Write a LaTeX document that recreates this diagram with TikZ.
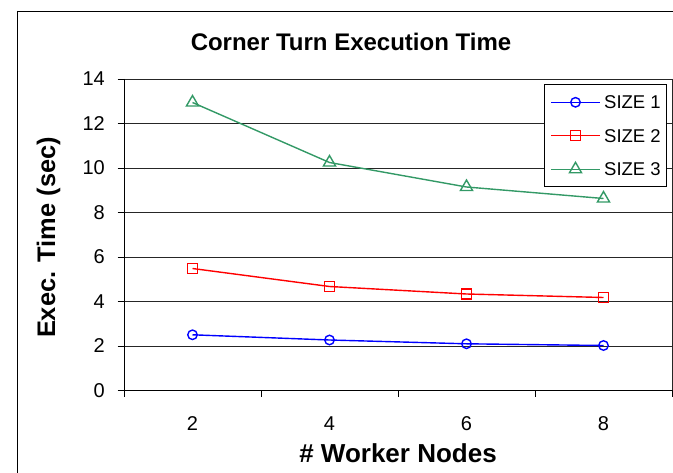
\documentclass[tikz,border=0pt]{standalone}
\usepackage{fontspec}
\setmainfont{Liberation Sans}
\usetikzlibrary{shapes.geometric}
\definecolor{sgreen}{RGB}{51,153,102}
\tikzset{
  frameline/.style={draw=black, line width=0.9pt},
  gridl/.style={draw=black!85, line width=0.9pt},
  axisl/.style={draw=black, line width=0.9pt},
  ticklab/.style={font=\fontsize{20}{20}\selectfont, inner sep=0pt},
  leglab/.style={font=\fontsize{18.5}{18.5}\selectfont, inner sep=0pt, anchor=west},
  bigbold/.style={font=\bfseries, inner sep=0pt, anchor=base},
  serA/.style={draw=blue, line width=1.4pt},
  serB/.style={draw=red, line width=1.4pt},
  serC/.style={draw=sgreen, line width=1.4pt},
  mkA/.style={circle, draw=blue, line width=1.4pt, minimum size=9.5pt, inner sep=0pt},
  mkB/.style={rectangle, draw=red, line width=1.4pt, minimum size=10pt, inner sep=0pt},
  mkC/.style={regular polygon, regular polygon sides=3, draw=sgreen, line width=1.4pt, minimum size=14pt, inner sep=0pt},
}
\begin{document}
\begin{tikzpicture}[x=1pt,y=-1pt]
\useasboundingbox (0,0) rectangle (673,473);
% outer chart frame
\draw[frameline] (17,11) -- (690,11);
\draw[frameline] (17,11) -- (17,490);
% title
\node[bigbold, font=\fontsize{24}{24}\selectfont\bfseries] (title) at (351,51) {Corner Turn Execution Time};
% grid lines (values 2..14), y = 390.5 - 22.25*v
\foreach \v in {2,4,...,14}{
  \draw[gridl] (124,{390.5-22.25*\v}) -- (672,{390.5-22.25*\v});
}
\draw[gridl] (672,79) -- (672,390.5);
% y axis with ticks and labels
\draw[axisl] (124,79) -- (124,390.5);
\foreach \v in {0,2,...,14}{
  \draw[axisl] (117.5,{390.5-22.25*\v}) -- (124,{390.5-22.25*\v});
  \node[ticklab, anchor=east] (yl\v) at (105,{390.5-22.25*\v}) {\v};
}
% x axis with ticks and labels
\draw[axisl] (124,390.5) -- (672,390.5);
\foreach \i in {0,...,4}{
  \draw[axisl] ({124+137*\i},390.5) -- ({124+137*\i},397.5);
}
\foreach \lab [count=\i from 0] in {2,4,6,8}{
  \node[ticklab, anchor=base] (xl\lab) at ({192.5+137*\i},430.5) {\lab};
}
% axis titles
\node[bigbold, font=\fontsize{26}{26}\selectfont\bfseries] (xtitle) at (398,462.5) {\# Worker Nodes};
\node[bigbold, font=\fontsize{25.4}{25.4}\selectfont\bfseries, rotate=90] (ytitle) at (55,237.5) {Exec. Time (sec)};
% data
\path (192.5,334.8) coordinate (a1) (329.5,340) coordinate (a2) (466.5,343.8) coordinate (a3) (603.5,345.5) coordinate (a4);
\path (192.5,268.5) coordinate (b1) (329.5,286.5) coordinate (b2) (466.5,294) coordinate (b3) (603.5,297.5) coordinate (b4);
\path (192.5,102.5) coordinate (c1) (329.5,162.5) coordinate (c2) (466.5,187) coordinate (c3) (603.5,198.5) coordinate (c4);
\draw[serA] (a1) -- (a2) -- (a3) -- (a4);
\draw[serB] (b1) -- (b2) -- (b3) -- (b4);
\draw[serC] (c1) -- (c2) -- (c3) -- (c4);
\foreach \k in {1,...,4}{
  \node[mkA] (ma\k) at (a\k) {};
  \node[mkB] (mb\k) at (b\k) {};
  \node[mkC] (mc\k) at (c\k) {};
}
% legend
\draw[draw=black, line width=0.9pt, fill=white] (544,84) rectangle (666,186);
\path (551,102.3) coordinate (la1) (600,102.3) coordinate (la2);
\path (551,135.7) coordinate (lb1) (600,135.7) coordinate (lb2);
\path (551,169.3) coordinate (lc1) (600,169.3) coordinate (lc2);
\draw[serA] (la1) -- (la2);
\draw[serB] (lb1) -- (lb2);
\draw[serC] (lc1) -- (lc2);
\node[mkA] (lma) at (575.5,102.3) {};
\node[mkB] (lmb) at (575.5,135.7) {};
\node[mkC] (lmc) at (575.5,169.3) {};
\node[leglab] (ta) at (604,102.3) {SIZE 1};
\node[leglab] (tb) at (604,135.7) {SIZE 2};
\node[leglab] (tc) at (604,169.3) {SIZE 3};
\end{tikzpicture}
\end{document}
